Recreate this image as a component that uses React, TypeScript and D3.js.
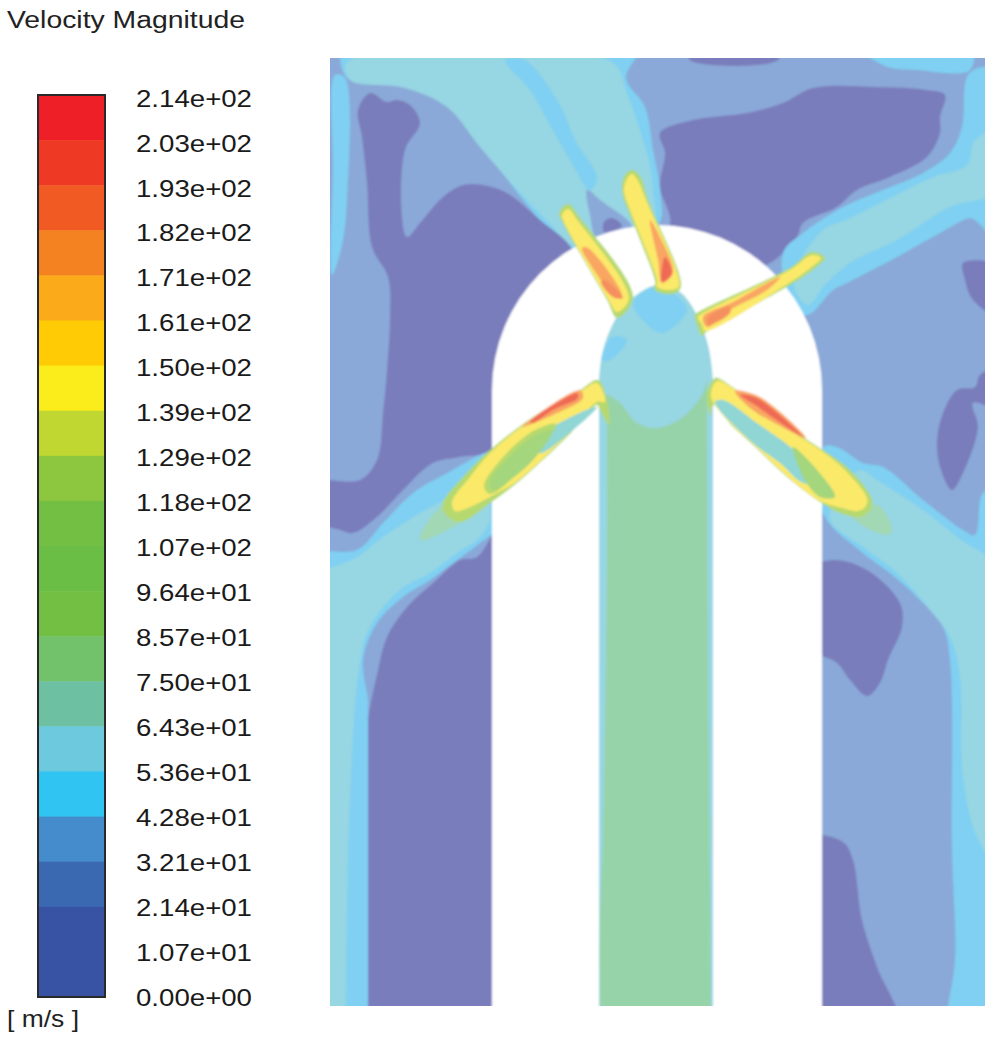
import React, { useEffect, useRef } from "react";
import * as d3 from "d3";

type Pt = [number, number];

// colorbar
const tickLabels = ["2.14e+02", "2.03e+02", "1.93e+02", "1.82e+02", "1.71e+02", "1.61e+02", "1.50e+02", "1.39e+02", "1.29e+02", "1.18e+02", "1.07e+02", "9.64e+01", "8.57e+01", "7.50e+01", "6.43e+01", "5.36e+01", "4.28e+01", "3.21e+01", "2.14e+01", "1.07e+01", "0.00e+00"];
const bandColors = ["#ee1f26", "#ee3a25", "#f15a22", "#f58220", "#fbaa19", "#ffcb05", "#faed1b", "#bfd730", "#8dc63f", "#72bf44", "#6abd45", "#72bf44", "#72c16b", "#6dc1a2", "#6dcade", "#2fc4f2", "#448ccb", "#3a69b1", "#3853a4", "#3953a4"];

// contour fills
const PERI = "#8aa9d8";
const DARK = "#7a7dbc";
const SKY = "#7fd0f2";
const AQUA = "#97d6e3";
const GREEN = "#97d3a9";
const PALEGREEN = "#a3d8b4";
const LIME = "#b5d96e";
const LEAF = "#a3d67d";
const YELLOW = "#fbe96a";
const ORANGE = "#f9a664";
const DEEP = "#f58f5f";
const RED = "#ef6a55";
const HOLLOW = "#8fd6d5";

// model coordinates of the domain, origin top-left. Outlines leaving the domain run past its edge
const domainW = 655;
const domainH = 948;
const archLeft = 162;
const archRight = 492;
const archSpring = 332;

const skyLeftStrip: Pt[] = [[5, 17], [15, 20], [17, 142], [12, 187], [2, 217], [3, 112]];
const skyTopJet: Pt[] = [[15, -15], [310, -15], [296, 20], [315, 49], [323, 92], [330, 132], [328, 167], [240, 192], [210, 162], [170, 112], [140, 72], [115, 42], [77, 25], [17, 20]];
const aquaTopJet: Pt[] = [[17, 4], [282, 4], [297, 35], [310, 72], [320, 107], [323, 132], [322, 172], [240, 187], [223, 169], [190, 135], [150, 89], [117, 49], [75, 30], [20, 22]];
const skyStreak: Pt[] = [[175, 2], [195, 2], [230, 47], [245, 82], [267, 120], [260, 132], [240, 102], [220, 67], [200, 32]];
const periBetweenVanes: Pt[] = [[257, 132], [270, 142], [302, 169], [267, 180], [260, 157]];
const darkBetweenVanes: Pt[] = [[274, 164], [282, 160], [292, 168], [274, 174]];
const darkLeft: Pt[] = [[40, 35], [28, 52], [32, 79], [37, 125], [42, 189], [58, 219], [60, 259], [57, 312], [53, 355], [47, 402], [30, 422], [-15, 425], [-15, 462], [10, 472], [23, 475], [47, 459], [73, 432], [103, 405], [130, 399], [162, 392], [180, 342], [245, 204], [240, 188], [210, 162], [177, 135], [153, 127], [133, 127], [113, 139], [90, 165], [77, 179], [72, 159], [75, 92], [90, 65], [80, 47], [67, 42], [57, 44]];
const darkTop: Pt[] = [[330, 75], [363, 62], [417, 55], [453, 45], [483, 30], [547, 29], [597, 32], [615, 37], [610, 59], [610, 75], [597, 99], [560, 119], [527, 132], [507, 149], [473, 165], [467, 179], [440, 205], [410, 212], [340, 192], [340, 159], [330, 129], [335, 95]];
const darkTopLine: Pt[] = [[360, -10], [448, -10], [448, 2], [360, 2]];
const skyTopRight: Pt[] = [[525, -15], [640, -15], [640, 12], [587, 12], [555, 8]];
const skyRightJet: Pt[] = [[453, 195], [473, 175], [513, 149], [553, 132], [593, 115], [620, 95], [632, 69], [637, 19], [648, 10], [670, 12], [670, 182], [645, 162], [640, 160], [603, 179], [567, 199], [517, 225], [503, 232], [477, 257], [460, 242]];
const aquaRightJet: Pt[] = [[470, 204], [493, 172], [520, 160], [570, 135], [603, 119], [637, 107], [645, 82], [670, 72], [670, 132], [620, 149], [567, 182], [520, 205], [495, 227], [478, 247], [465, 232]];
const darkRightEdge: Pt[] = [[633, 205], [670, 209], [670, 259], [643, 242], [635, 222]];
const darkRightBlob: Pt[] = [[670, 309], [670, 350], [643, 345], [648, 369], [633, 415], [622, 432], [610, 409], [607, 382], [613, 355], [627, 332], [645, 329], [650, 317]];
const skyRightLower: Pt[] = [[493, 389], [507, 389], [533, 405], [553, 409], [593, 442], [633, 472], [645, 477], [653, 435], [670, 432], [670, 450], [670, 950], [670, 965], [618, 965], [618, 950], [625, 902], [622, 792], [620, 602], [613, 569], [587, 539], [560, 515], [533, 495], [493, 455]];
const aquaRightLower: Pt[] = [[530, 412], [547, 422], [593, 452], [627, 479], [670, 515], [670, 809], [647, 779], [633, 719], [630, 619], [620, 579], [600, 552], [567, 515], [533, 489], [500, 462], [510, 432]];
const darkRightMid: Pt[] = [[480, 512], [503, 502], [537, 512], [570, 545], [572, 569], [558, 602], [550, 625], [537, 638], [520, 622], [507, 605], [480, 589]];
const darkRightBottom: Pt[] = [[480, 780], [513, 784], [523, 802], [532, 862], [547, 909], [567, 965], [480, 965]];
const darkLeftLower: Pt[] = [[175, 462], [147, 499], [130, 502], [103, 525], [77, 549], [57, 579], [48, 612], [38, 662], [38, 675], [38, 950], [38, 965], [175, 965]];
const skyLeftJet: Pt[] = [[175, 392], [110, 419], [83, 435], [53, 465], [27, 492], [-15, 495], [-15, 510], [-15, 950], [-15, 965], [38, 965], [38, 950], [38, 655], [38, 642], [33, 602], [47, 565], [73, 539], [100, 522], [127, 502], [150, 485], [175, 462]];
const aquaLeftJet: Pt[] = [[150, 412], [113, 442], [90, 455], [53, 479], [27, 499], [-15, 519], [-15, 535], [-15, 950], [-15, 965], [16, 965], [16, 950], [20, 742], [30, 605], [40, 569], [70, 532], [100, 515], [127, 495], [150, 479], [160, 459]];
const leftWake: Pt[] = [[90, 482], [113, 447], [160, 437], [150, 452]];
const rightWake: Pt[] = [[523, 459], [547, 447], [562, 472], [557, 477]];

// centre body
const hubOutline: Pt[] = [[269, 965], [269, 950], [269, 340], [269, 322], [273, 292], [285, 262], [300, 242], [327, 227], [350, 234], [367, 257], [378, 287], [383, 322], [383, 340], [383, 950], [383, 965]];
const hubGreen: Pt[] = [[270, 965], [270, 950], [270, 870], [273, 780], [277, 500], [277, 345], [277, 337], [290, 345], [307, 365], [327, 370], [353, 359], [373, 335], [377, 322], [377, 340], [378, 600], [381, 950], [381, 965]];
const hubSky: Pt[] = [[323, 229], [343, 235], [357, 252], [333, 275], [320, 269], [303, 245]];
const hubSkyLeft: Pt[] = [[282, 279], [297, 282], [280, 302], [272, 302]];

// nozzle 1, upper left
const n1Lime: Pt[] = [[229, 155], [238, 146], [250, 160], [303, 239], [287, 260], [277, 242], [233, 165]];
const n1Yellow: Pt[] = [[232, 157], [238, 151], [248, 163], [299, 240], [287, 254], [278, 241], [234, 164]];
const n1Orange: Pt[] = [[252, 190], [258, 190], [292, 238], [285, 240], [268, 218]];
const n1Red: Pt[] = [[275, 222], [293, 240], [283, 239], [271, 224]];
// nozzle 2, top
const n2Lime: Pt[] = [[292, 132], [295, 117], [302, 112], [310, 118], [318, 142], [351, 229], [342, 236], [325, 232], [325, 223], [310, 182], [300, 157]];
const n2Yellow: Pt[] = [[294, 132], [298, 119], [302, 116], [307, 121], [316, 142], [349, 228], [341, 232], [327, 229], [327, 222], [312, 182], [302, 157]];
const n2Orange: Pt[] = [[320, 162], [330, 179], [343, 215], [332, 225], [328, 202]];
const n2Red: Pt[] = [[335, 199], [342, 215], [332, 224], [332, 209]];
// nozzle 3, upper right
const n3Lime: Pt[] = [[365, 257], [370, 253], [460, 210], [482, 194], [495, 200], [485, 210], [460, 227], [375, 275], [372, 278], [367, 267]];
const n3Yellow: Pt[] = [[368, 259], [373, 255], [460, 212], [482, 197], [491, 200], [483, 208], [459, 225], [375, 273], [372, 267]];
const n3Orange: Pt[] = [[373, 259], [403, 244], [450, 219], [437, 232], [400, 252], [377, 269]];
const n3Red: Pt[] = [[378, 259], [400, 249], [400, 255], [378, 267]];
// nozzle 4, lower left
const n4Lime: Pt[] = [[268, 322], [277, 342], [279, 367], [270, 352], [267, 347], [237, 379], [187, 425], [160, 445], [130, 464], [115, 455], [113, 445], [133, 419], [160, 392], [203, 359], [250, 332]];
const n4Yellow: Pt[] = [[267, 325], [275, 344], [267, 344], [236, 378], [186, 424], [160, 439], [140, 449], [125, 453], [122, 444], [140, 419], [161, 394], [204, 360], [251, 333]];
const n4Hollow: Pt[] = [[267, 349], [237, 377], [210, 395], [207, 385], [223, 369]];
const n4LeafEdge: Pt[] = [[205, 372], [226, 366], [210, 392], [185, 418], [160, 436], [154, 428], [176, 396]];
const n4Leaf: Pt[] = [[203, 379], [223, 372], [203, 402], [180, 422], [163, 432], [160, 424], [180, 399]];
const n4Orange: Pt[] = [[192, 369], [250, 332], [253, 340], [225, 356]];
const n4Red: Pt[] = [[200, 364], [247, 335], [248, 340], [223, 352], [203, 365]];
// nozzle 5, lower right
const n5Lime: Pt[] = [[385, 320], [377, 335], [380, 357], [383, 347], [403, 369], [423, 387], [457, 419], [490, 444], [510, 455], [530, 459], [540, 452], [542, 442], [520, 412], [493, 392], [473, 379], [410, 334], [388, 320]];
const n5Yellow: Pt[] = [[387, 323], [381, 335], [383, 344], [403, 368], [423, 386], [457, 418], [490, 443], [512, 450], [528, 453], [536, 448], [537, 440], [516, 413], [492, 393], [472, 380], [410, 335]];
const n5Hollow: Pt[] = [[385, 344], [393, 342], [427, 365], [467, 395], [488, 425], [473, 425], [450, 405], [423, 385]];
const n5Leaf: Pt[] = [[463, 389], [493, 419], [505, 439], [490, 439], [475, 422]];
const n5Orange: Pt[] = [[405, 333], [430, 339], [476, 380], [450, 368], [420, 350]];
const n5Red: Pt[] = [[410, 337], [427, 340], [473, 379], [455, 368], [425, 347]];

const backRegions: [Pt[], string][] = [
    [skyLeftStrip, SKY], [skyTopJet, SKY], [aquaTopJet, AQUA], [skyStreak, SKY],
    [periBetweenVanes, PERI], [darkBetweenVanes, DARK], [darkLeft, DARK], [darkTop, DARK],
    [darkTopLine, DARK], [skyTopRight, SKY], [skyRightJet, SKY], [aquaRightJet, AQUA],
    [darkRightEdge, DARK], [darkRightBlob, DARK], [skyRightLower, SKY], [aquaRightLower, AQUA],
    [darkRightMid, DARK], [darkRightBottom, DARK], [darkLeftLower, DARK], [skyLeftJet, SKY],
    [aquaLeftJet, AQUA], [leftWake, PALEGREEN], [rightWake, PALEGREEN],
];

const frontRegions: [Pt[], string][] = [
    [hubOutline, AQUA], [hubGreen, GREEN], [hubSky, SKY], [hubSkyLeft, SKY],
    [n1Lime, LIME], [n1Yellow, YELLOW], [n1Orange, ORANGE], [n1Red, DEEP],
    [n2Lime, LIME], [n2Yellow, YELLOW], [n2Orange, ORANGE], [n2Red, RED],
    [n3Lime, LIME], [n3Yellow, YELLOW], [n3Orange, ORANGE], [n3Red, DEEP],
    [n4Lime, LIME], [n4Yellow, YELLOW], [n4Hollow, HOLLOW], [n4LeafEdge, LIME], [n4Leaf, LEAF], [n4Orange, ORANGE], [n4Red, RED],
    [n5Lime, LIME], [n5Yellow, YELLOW], [n5Hollow, HOLLOW], [n5Leaf, LEAF], [n5Orange, ORANGE], [n5Red, RED],
];

export default function App() {
    const ref = useRef<SVGSVGElement>(null);

    useEffect(() => {
        const svg = d3.select(ref.current);
        svg.selectAll("*").remove();

        const fontFamily = "'Liberation Sans', Arial, sans-serif";

        // legend title + unit
        svg.append("text").attr("x", 7).attr("y", 28).attr("font-family", fontFamily).attr("font-size", 23)
            .attr("fill", "#222").attr("textLength", 238).attr("lengthAdjust", "spacingAndGlyphs").text("Velocity Magnitude");
        svg.append("text").attr("x", 7).attr("y", 1027).attr("font-family", fontFamily).attr("font-size", 24)
            .attr("fill", "#222").attr("textLength", 72).attr("lengthAdjust", "spacingAndGlyphs").text("[ m/s ]");

        // colorbar
        const bandY = d3.scaleBand<number>().domain(d3.range(bandColors.length)).range([95, 997]);
        svg.append("g").selectAll("rect").data(bandColors).join("rect")
            .attr("x", 38).attr("width", 67)
            .attr("y", (_, i) => bandY(i)!)
            .attr("height", bandY.bandwidth() + 0.5)
            .attr("fill", d => d);
        svg.append("rect").attr("x", 38).attr("y", 95).attr("width", 67).attr("height", 902)
            .attr("fill", "none").attr("stroke", "#2a2a2a").attr("stroke-width", 2);

        const labelY = d3.scalePoint<string>().domain(tickLabels).range([98, 997]);
        svg.append("g").selectAll("text").data(tickLabels).join("text")
            .attr("x", 136).attr("y", d => labelY(d)!).attr("dy", "0.36em")
            .attr("font-family", fontFamily).attr("font-size", 24).attr("fill", "#1a1a1a")
            .attr("textLength", 116).attr("lengthAdjust", "spacingAndGlyphs")
            .text(d => d);

        // contour plot
        const x = d3.scaleLinear().domain([0, domainW]).range([330, 985]);
        const y = d3.scaleLinear().domain([0, domainH]).range([58, 1006]);
        const line = d3.line<Pt>().x(d => x(d[0])).y(d => y(d[1])).curve(d3.curveCatmullRomClosed.alpha(0.5));

        const defs = svg.append("defs");
        defs.append("clipPath").attr("id", "frame").append("rect")
            .attr("x", x(0)).attr("y", y(0)).attr("width", x(domainW) - x(0)).attr("height", y(domainH) - y(0));
        defs.append("filter").attr("id", "soft").attr("x", "-2%").attr("y", "-2%").attr("width", "104%").attr("height", "104%")
            .append("feGaussianBlur").attr("stdDeviation", 0.9);

        const plot = svg.append("g").attr("clip-path", "url(#frame)").append("g").attr("filter", "url(#soft)");

        plot.append("rect").attr("x", x(0) - 10).attr("y", y(0) - 10).attr("width", x(domainW) - x(0) + 20).attr("height", y(domainH) - y(0) + 20).attr("fill", PERI);

        plot.append("g").selectAll("path").data(backRegions).join("path")
            .attr("d", d => line(d[0]))
            .attr("fill", d => d[1]);

        // cut-out channel around the centre body
        const radius = (x(archRight) - x(archLeft)) / 2;
        const arch = d3.path();
        arch.moveTo(x(archLeft), y(domainH) + 15);
        arch.lineTo(x(archLeft), y(archSpring));
        arch.arc((x(archLeft) + x(archRight)) / 2, y(archSpring), radius, Math.PI, 0);
        arch.lineTo(x(archRight), y(domainH) + 15);
        arch.closePath();
        plot.append("path").attr("d", arch.toString()).attr("fill", "#fff");

        plot.append("g").selectAll("path").data(frontRegions).join("path")
            .attr("d", d => line(d[0]))
            .attr("fill", d => d[1]);
    }, []);

    return <svg ref={ref} width={996} height={1042} style={{ position: "absolute", left: 0, top: 0, background: "#fff" }} />;
}
